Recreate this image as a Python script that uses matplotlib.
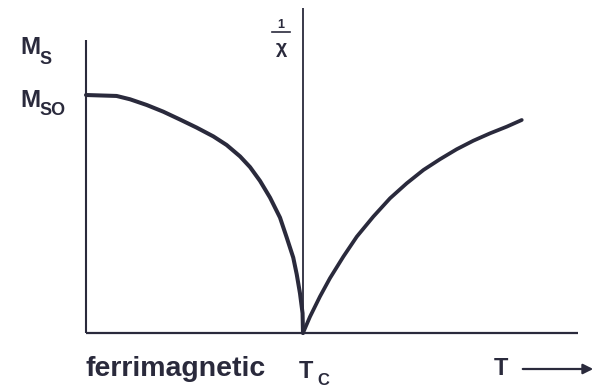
import matplotlib
matplotlib.use("Agg")
import matplotlib.pyplot as plt

# temperature in units of T_c, magnetisation in units of M_s0
t_ferri = [0.0, 0.141, 0.203, 0.280, 0.356, 0.433, 0.510, 0.587, 0.648, 0.710,
           0.756, 0.802, 0.848, 0.894, 0.925, 0.955, 0.971, 0.986, 0.998, 1.0]
ms = [1.0, 0.996, 0.982, 0.958, 0.930, 0.897, 0.863, 0.826, 0.790, 0.742,
      0.697, 0.639, 0.569, 0.485, 0.401, 0.317, 0.247, 0.167, 0.083, 0.0]

t_para = [1.0, 1.032, 1.078, 1.124, 1.186, 1.248, 1.324, 1.401, 1.478, 1.555,
          1.631, 1.708, 1.785, 1.862, 1.939, 2.008]
inv_chi = [0.0, 0.068, 0.153, 0.230, 0.321, 0.405, 0.489, 0.566, 0.629, 0.685,
           0.730, 0.772, 0.808, 0.839, 0.867, 0.895]

# extents of the drawn axes
t_axis_end = 2.267
m_axis_top = 1.231
tc_line_top = 1.366

ink = "#2a2a3c"
font = "Liberation Sans"

fig = plt.figure(figsize=(5.96, 3.88), dpi=100)
ax = fig.add_axes([0, 0, 1, 1])
ax.set_xlim(-0.3963, 2.3502)
ax.set_ylim(-0.2311, 1.3992)
ax.axis("off")

# axes of the sketch
ax.plot([0, 0], [0, m_axis_top], color=ink, lw=1.5, solid_capstyle="butt")
ax.plot([0, t_axis_end], [0, 0], color=ink, lw=1.6, solid_capstyle="butt")
ax.plot([1, 1], [0, tc_line_top], color=ink, lw=1.3, solid_capstyle="butt")

# spontaneous magnetisation and inverse susceptibility
ax.plot(t_ferri, ms, color=ink, lw=2.9, solid_capstyle="round", solid_joinstyle="round")
ax.plot(t_para, inv_chi, color=ink, lw=2.7, solid_capstyle="round", solid_joinstyle="round")


def px(x, y):
    return x / 596, 1 - y / 388


kw = dict(color=ink, family=font, weight="bold")

fig.text(*px(20, 54), "M", fontsize=17.5, ha="left", va="baseline", **kw)
fig.text(*px(39, 64), "S", fontsize=13, ha="left", va="baseline", **kw)
fig.text(*px(20, 107), "M", fontsize=17.5, ha="left", va="baseline", **kw)
fig.text(*px(39, 115), "SO", fontsize=13, ha="left", va="baseline", **kw)

# 1/chi label beside the T_c line
fig.text(*px(281, 28), "1", fontsize=9, ha="center", va="baseline", **kw)
fig.lines.append(plt.Line2D([272 / 596, 290 / 596], [1 - 32 / 388] * 2,
                            transform=fig.transFigure, color=ink, lw=1.2))
fig.text(*px(281, 53), "χ", fontsize=14, ha="center", va="baseline", **kw)

fig.text(*px(85, 376), "ferrimagnetic", fontsize=20.5, ha="left", va="baseline", **kw)
fig.text(*px(299, 378), "T", fontsize=17, ha="left", va="baseline", **kw)
fig.text(*px(317, 385), "C", fontsize=12, ha="left", va="baseline", **kw)
fig.text(*px(494, 375), "T", fontsize=17, ha="left", va="baseline", **kw)
fig.patches.append(matplotlib.patches.FancyArrowPatch(
    px(520, 369), px(596, 369), transform=fig.transFigure,
    arrowstyle="-|>,head_length=6,head_width=3", color=ink, lw=1.6))

fig.savefig("out.png", dpi=100, facecolor="white")
